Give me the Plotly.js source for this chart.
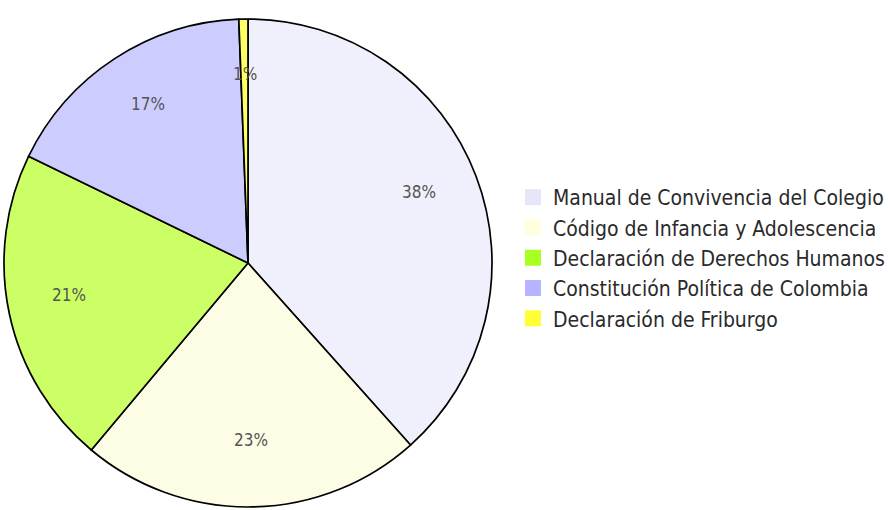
<!DOCTYPE html>
<html>
<head>
<meta charset="utf-8">
<script src="https://cdn.plot.ly/plotly-3.0.1.min.js"></script>
<style>html,body{margin:0;padding:0;background:#fff;}#chart{width:892px;height:510px;}</style>
</head>
<body>
<div id="chart"></div>
<script>
const categories = [
  "Manual de Convivencia del Colegio",
  "Código de Infancia y Adolescencia",
  "Declaración de Derechos Humanos",
  "Constitución Política de Colombia",
  "Declaración de Friburgo"
];
const shares = [38.4, 22.7, 21.1, 17.2, 0.6];
const sliceColors = ["#f0f0fc", "#fdfde6", "#ccff66", "#ccccff", "#ffff66"];
const legendColors = ["#e6e6fa", "#ffffe0", "#aaff22", "#b4b4ff", "#ffff33"];

const W = 892, H = 510;
const cx = 248, cy = 263, R = 244;
const labelRadiusRatio = 0.75;

const pieTrace = {
  type: "pie",
  labels: categories,
  values: shares,
  sort: false,
  direction: "clockwise",
  rotation: 0,
  marker: { colors: sliceColors, line: { color: "#000", width: 1.7 } },
  textinfo: "none",
  showlegend: false,
  hoverinfo: "label+percent",
  domain: { x: [(cx - R) / W, (cx + R) / W], y: [1 - (cy + R + 2) / H, 1 - (cy - R - 2) / H] }
};

// percentage labels placed at each slice's mid-angle, derived from the data
const total = shares.reduce((a, b) => a + b, 0);
let cum = 0;
const annotations = shares.map((v) => {
  const mid = (cum + v / 2) / total * 2 * Math.PI;
  cum += v;
  const r = R * labelRadiusRatio;
  return {
    xref: "paper", yref: "paper",
    x: (cx + r * Math.sin(mid)) / W,
    y: 1 - (cy - r * Math.cos(mid)) / H,
    xanchor: "center", yanchor: "middle",
    yshift: 6,
    text: Math.round(v / total * 100) + "%",
    showarrow: false,
    font: { family: "DejaVu Sans Condensed", size: 17, color: "#555" }
  };
});

const legendTraces = categories.map((name, i) => ({
  type: "scatter",
  mode: "markers",
  x: [null], y: [null],
  name: name,
  marker: { symbol: "square", size: 22, color: legendColors[i], line: { width: 0 } },
  showlegend: true,
  hoverinfo: "skip"
}));

const layout = {
  width: W, height: H,
  margin: { l: 0, r: 0, t: 0, b: 0 },
  paper_bgcolor: "#fff",
  plot_bgcolor: "rgba(0,0,0,0)",
  xaxis: { visible: false },
  yaxis: { visible: false },
  annotations: annotations,
  showlegend: true,
  legend: {
    x: 513 / W, y: 1 - 258 / H, xanchor: "left", yanchor: "middle",
    font: { family: "DejaVu Sans Condensed", size: 21, color: "#2a2a2a" },
    itemsizing: "trace", tracegroupgap: 0, itemwidth: 30
  }
};

Plotly.newPlot("chart", [pieTrace, ...legendTraces], layout, { displayModeBar: false, staticPlot: true });
</script>
</body>
</html>
